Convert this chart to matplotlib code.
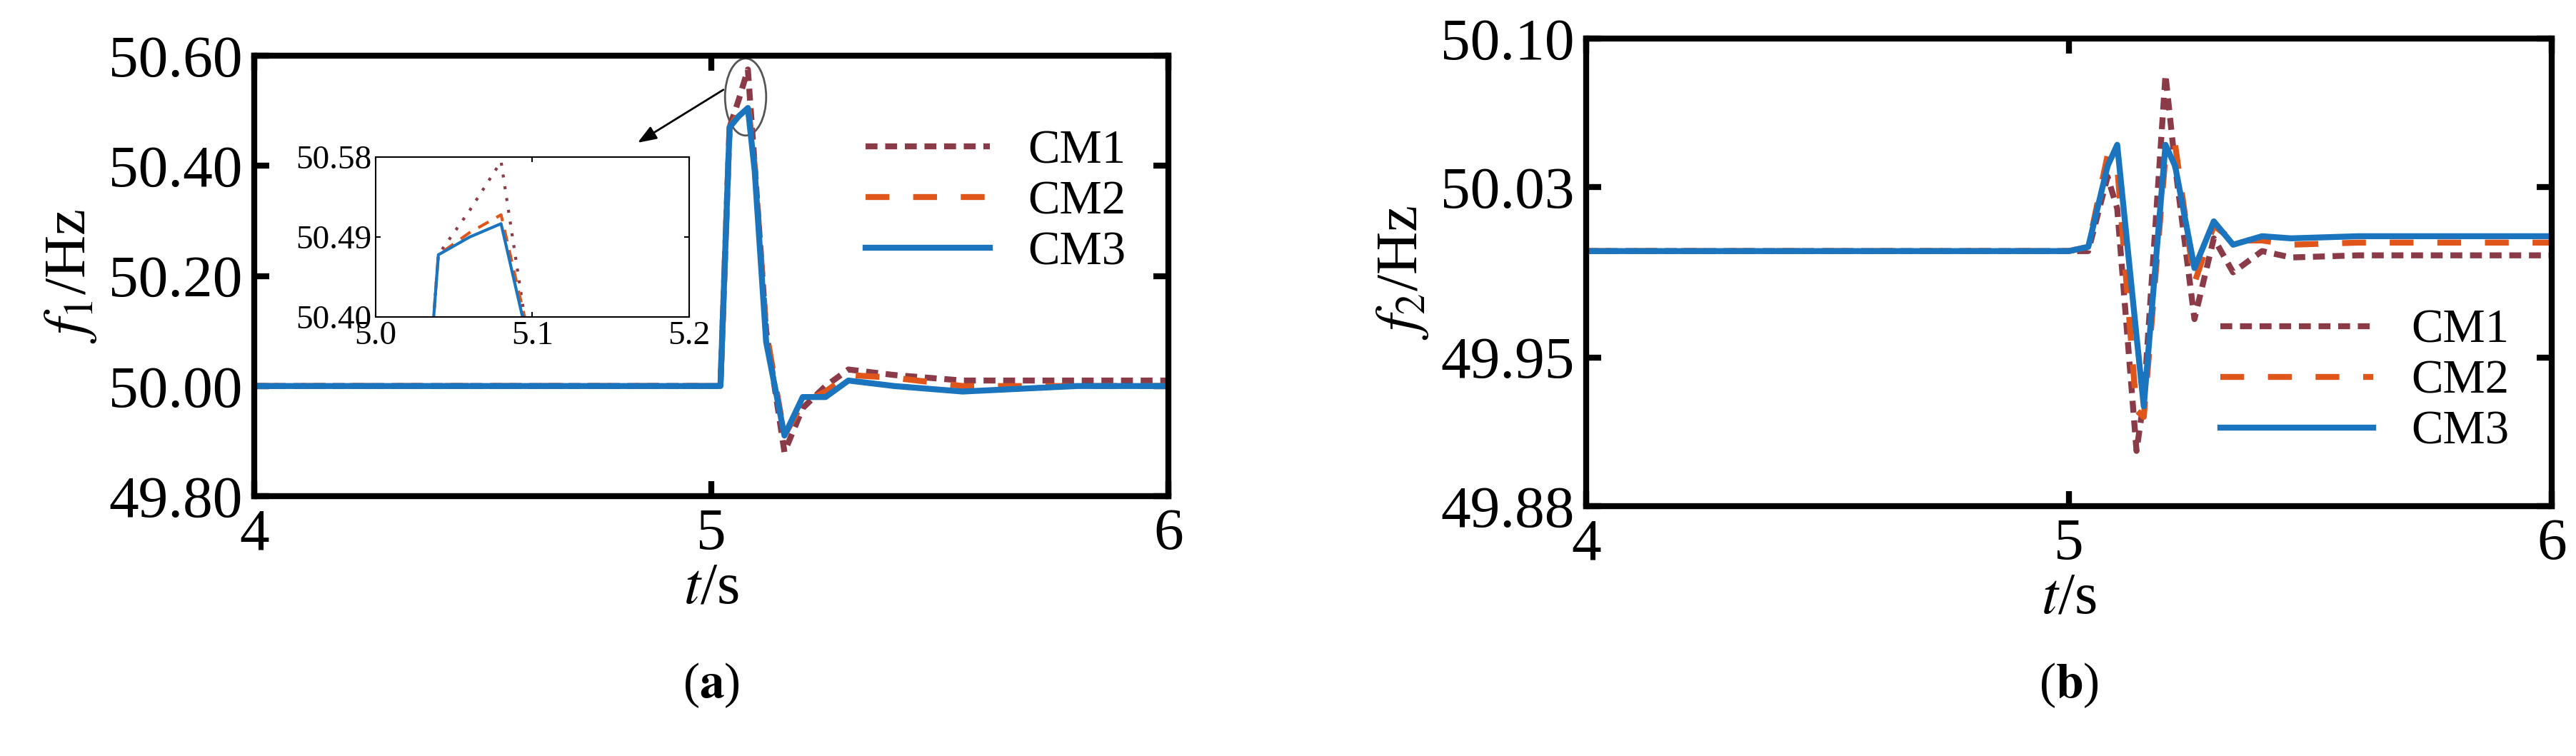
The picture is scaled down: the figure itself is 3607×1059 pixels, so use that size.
import numpy as np
import matplotlib.pyplot as plt
from matplotlib.patches import Ellipse

plt.rcParams['font.family'] = ['Liberation Serif', 'DejaVu Serif']
plt.rcParams['mathtext.fontset'] = 'stix'

# panel (a) data
t_a = [4.0, 4.5, 5.0, 5.02, 5.04, 5.06, 5.08, 5.095, 5.12, 5.16, 5.2, 5.25, 5.3, 5.4, 5.55, 5.8, 6.0]
cm1_a = [50.0, 50.0, 50.0, 50.0, 50.47, 50.52, 50.575, 50.40, 50.10, 49.88, 49.96, 50.00, 50.03, 50.02, 50.01, 50.01, 50.01]
cm2_a = [50.0, 50.0, 50.0, 50.0, 50.47, 50.495, 50.515, 50.40, 50.10, 49.91, 49.97, 49.99, 50.02, 50.015, 50.0, 50.0, 50.0]
cm3_a = [50.0, 50.0, 50.0, 50.0, 50.47, 50.49, 50.505, 50.39, 50.08, 49.91, 49.98, 49.98, 50.01, 50.0, 49.99, 50.0, 50.0]

# panel (b) data
t_b = [4.0, 4.5, 5.0, 5.04, 5.08, 5.10, 5.14, 5.155, 5.20, 5.22, 5.26, 5.30, 5.34, 5.40, 5.46, 5.6, 6.0]
cm1_b = [50.0, 50.0, 50.0, 50.0, 50.035, 50.02, 49.906, 49.93, 50.083, 50.04, 49.968, 50.006, 49.99, 50.0, 49.997, 49.998, 49.998]
cm2_b = [50.0, 50.0, 50.0, 50.002, 50.045, 50.04, 49.925, 49.922, 50.045, 50.05, 49.985, 50.012, 50.005, 50.005, 50.003, 50.004, 50.004]
cm3_b = [50.0, 50.0, 50.0, 50.002, 50.04, 50.05, 49.96, 49.927, 50.05, 50.04, 49.992, 50.014, 50.003, 50.007, 50.006, 50.007, 50.007]

colors = ['#8B3A48', '#E0561A', '#1A75BE']
labels = ['CM1', 'CM2', 'CM3']
styles = [(0, (2, 1.3)), (0, (4, 4)), '-']

W, H = 3607, 1059
fig = plt.figure(figsize=(W / 100, H / 100), dpi=100)

def box(l, r, t, b):
    return [l / W, 1 - b / H, (r - l) / W, (b - t) / H]

def style_ax(ax, lw=6, size=60, length=15):
    for s in ax.spines.values():
        s.set_linewidth(lw)
    ax.tick_params(direction='in', top=True, right=True, width=lw, length=length,
                   labelsize=size, pad=12)

ax1 = fig.add_axes(box(356, 1636, 78, 695))
for y, c, ls, lb in zip([cm1_a, cm2_a, cm3_a], colors, styles, labels):
    ax1.plot(t_a, y, color=c, ls=ls, lw=6, label=lb)
ax1.set_xlim(4, 6)
ax1.set_ylim(49.8, 50.6)
ax1.set_xticks([4, 5, 6])
ax1.set_yticks([49.8, 50.0, 50.2, 50.4, 50.6])
ax1.set_yticklabels(['49.80', '50.00', '50.20', '50.40', '50.60'])
style_ax(ax1)
ax1.set_xlabel('$t$/s', fontsize=60, labelpad=0)
ax1.set_ylabel('$f_1$/Hz', fontsize=60, labelpad=10)
ax1.legend(loc='upper right', fontsize=48, frameon=False, handlelength=2.6,
           bbox_to_anchor=(1.0, 0.93), labelspacing=0.15)
ax1.add_patch(Ellipse((5.075, 50.525), 0.09, 0.14, fill=False, ec='#555555', lw=2))
ax1.annotate('', xy=(4.835, 50.44), xytext=(5.03, 50.54),
             arrowprops=dict(arrowstyle='-|>,head_length=1.6,head_width=0.6', color='black', lw=2))

ins = fig.add_axes(box(526, 965, 220, 444))
ins_styles = [(0, (1, 3)), (0, (4, 3)), '-']
for y, c, ls in zip([cm1_a, cm2_a, cm3_a], colors, ins_styles):
    ins.plot(t_a, y, color=c, ls=ls, lw=3)
ins.set_xlim(5.0, 5.2)
ins.set_ylim(50.40, 50.58)
ins.set_xticks([5.0, 5.1, 5.2])
ins.set_yticks([50.40, 50.49, 50.58])
ins.set_yticklabels(['50.40', '50.49', '50.58'])
style_ax(ins, lw=1.5, size=34, length=5)
ins.tick_params(pad=4)
ins.set_facecolor('white')

fig.text(996 / W, 1 - 960 / H, r'($\mathbf{a}$)', fontsize=50, ha='center', va='center')

ax2 = fig.add_axes(box(2221, 3573, 54, 709))
for y, c, ls, lb in zip([cm1_b, cm2_b, cm3_b], colors, styles, labels):
    ax2.plot(t_b, y, color=c, ls=ls, lw=6, label=lb)
ax2.set_xlim(4, 6)
ax2.set_ylim(49.88, 50.10)
ax2.set_xticks([4, 5, 6])
ax2.set_yticks([49.88, 49.95, 50.03, 50.10])
ax2.set_yticklabels(['49.88', '49.95', '50.03', '50.10'])
style_ax(ax2)
ax2.set_xlabel('$t$/s', fontsize=60, labelpad=0)
ax2.set_ylabel('$f_2$/Hz', fontsize=60, labelpad=10)
ax2.legend(loc='lower right', fontsize=48, frameon=False, handlelength=3.2,
           bbox_to_anchor=(1.0, 0.02), labelspacing=0.15)

fig.text(2897 / W, 1 - 960 / H, r'($\mathbf{b}$)', fontsize=50, ha='center', va='center')

fig.savefig('out.png', dpi=100)
